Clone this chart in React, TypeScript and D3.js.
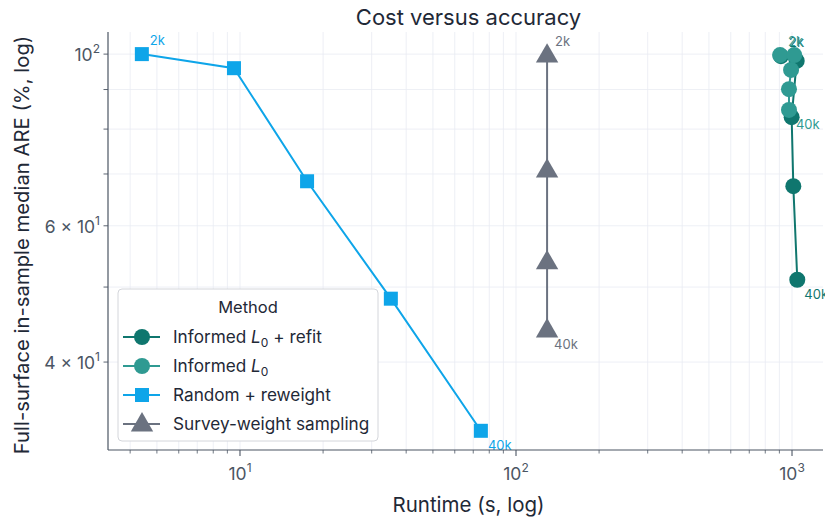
import * as d3 from "d3";

const width = 825;
const height = 517;
const margin = { top: 32, right: 2, bottom: 67, left: 108 };

// Runtime (s) and median ARE (%) per sample size, 2k -> 40k
const refitRuntime = [912, 1040, 997, 1011, 1045];
const refitAre = [99.4, 98.0, 82.9, 67.5, 51.1];
const l0Runtime = [905, 1019, 992, 975, 975];
const l0Are = [99.7, 99.7, 95.4, 90.1, 84.7];
const randomRuntime = [4.41, 9.51, 17.5, 35.2, 74.6];
const randomAre = [100, 95.9, 68.5, 48.3, 32.6];
const surveyRuntime = [129.6, 129.6, 129.6, 129.6];
const surveyAre = [99.7, 70.8, 53.9, 44.0];

const seriesNames = ["Informed L0 + refit", "Informed L0", "Random + reweight", "Survey-weight sampling"];
const seriesColors = ["#0f766e", "#2f9a92", "#0ea5e9", "#6b7280"];
const seriesMarkers = ["circle", "circle", "square", "triangle"];
const firstLabel = "2k";
const lastLabel = "40k";

const xMajorTicks = [10, 100, 1000];
const xMajorExp = ["1", "2", "3"];
const yLabeledTicks = [100, 60, 40];
const yLabelMantissa = ["", "6 × ", "4 × "];
const yLabelExp = ["2", "1", "1"];

const series = [
  { runtime: refitRuntime, are: refitAre },
  { runtime: l0Runtime, are: l0Are },
  { runtime: randomRuntime, are: randomAre },
  { runtime: surveyRuntime, are: surveyAre },
];

const font = "Inter, 'Noto Sans', sans-serif";

const Marker = ({ kind, x, y, color, size }: { kind: string; x: number; y: number; color: string; size: number }) => {
  if (kind === "circle") return <circle cx={x} cy={y} r={size / 2} fill={color} />;
  if (kind === "square")
    return <rect x={x - size / 2} y={y - size / 2} width={size} height={size} fill={color} />;
  const sym = d3.symbol().type(d3.symbolTriangle).size(size * size * 0.75)();
  return <path d={sym || ""} transform={`translate(${x},${y + 1})`} fill={color} />;
};

const LegendName = ({ name }: { name: string }) => {
  if (name.startsWith("Informed L0")) {
    const rest = name.slice("Informed L0".length);
    return (
      <>
        <tspan>Informed </tspan>
        <tspan fontStyle="italic">L</tspan>
        <tspan fontSize={12} dy={4}>0</tspan>
        <tspan dy={-4}>{rest}</tspan>
      </>
    );
  }
  return <tspan>{name}</tspan>;
};

export default function App() {
  const left = margin.left;
  const right = width - margin.right;
  const top = margin.top;
  const bottom = height - margin.bottom;

  const x = d3.scaleLog().domain([3.325, 1295]).range([left, right]);
  const y = d3.scaleLog().domain([30.79, 106.8]).range([bottom, top]);

  const xTicks = x.ticks().filter((t) => t >= x.domain()[0] && t <= x.domain()[1]);
  const yTicks = y.ticks().filter((t) => t >= y.domain()[0] && t <= y.domain()[1]);

  const line = d3
    .line<[number, number]>()
    .x((d) => x(d[0]))
    .y((d) => y(d[1]));

  const markerSize = [16, 16, 14, 17];

  return (
    <svg
      width={width}
      height={height}
      style={{ position: "absolute", left: 0, top: 0, background: "#fff" }}
      fontFamily={font}
    >
      {/* grid */}
      <g stroke="#e8ebf2" strokeWidth={0.8}>
        {xTicks.map((t, i) => (
          <line key={"gx" + i} x1={x(t)} x2={x(t)} y1={top} y2={bottom} />
        ))}
        {yTicks.map((t, i) => (
          <line key={"gy" + i} x1={left} x2={right} y1={y(t)} y2={y(t)} />
        ))}
      </g>

      {/* series */}
      {series.map((s, si) => {
        const pts: [number, number][] = s.runtime.map((r, i) => [r, s.are[i]]);
        return (
          <g key={"s" + si}>
            <path d={line(pts) || ""} fill="none" stroke={seriesColors[si]} strokeWidth={2} />
            {pts.map((p, i) => (
              <Marker
                key={i}
                kind={seriesMarkers[si]}
                x={x(p[0])}
                y={y(p[1])}
                color={seriesColors[si]}
                size={markerSize[si]}
              />
            ))}
          </g>
        );
      })}

      {/* point annotations */}
      {series.map((s, si) => {
        const n = s.runtime.length;
        return (
          <g key={"a" + si} fontSize={13} fill={seriesColors[si]}>
            <text x={x(s.runtime[0]) + 8} y={y(s.are[0]) - 9}>
              {firstLabel}
            </text>
            <text x={x(s.runtime[n - 1]) + 7} y={y(s.are[n - 1]) + 19}>
              {lastLabel}
            </text>
          </g>
        );
      })}

      {/* axes */}
      <g stroke="#4b5563" strokeWidth={1.2}>
        <line x1={left} x2={left} y1={top} y2={bottom} />
        <line x1={left} x2={right} y1={bottom} y2={bottom} />
        {xTicks.map((t, i) => {
          const major = xMajorTicks.includes(t);
          return <line key={"tx" + i} x1={x(t)} x2={x(t)} y1={bottom} y2={bottom + (major ? 6 : 3.5)} strokeWidth={major ? 1.1 : 0.8} />;
        })}
        {yTicks.map((t, i) => (
          <line key={"ty" + i} x1={left - 4.5} x2={left} y1={y(t)} y2={y(t)} strokeWidth={0.9} />
        ))}
      </g>

      <g fill="#4b5563" fontSize={17.5}>
        {xMajorTicks.map((t, i) => (
          <text key={"lx" + i} x={x(t)} y={bottom + 30} textAnchor="middle">
            10<tspan fontSize={12} dy={-8}>{xMajorExp[i]}</tspan>
          </text>
        ))}
        {yLabeledTicks.map((t, i) => (
          <text key={"ly" + i} x={left - 8} y={y(t) + 7} textAnchor="end">
            {yLabelMantissa[i]}10<tspan fontSize={12} dy={-8}>{yLabelExp[i]}</tspan>
          </text>
        ))}
      </g>

      <text x={(left + right) / 2 + 3} y={bottom + 62} textAnchor="middle" fontSize={20.5} fill="#1f2937">
        Runtime (s, log)
      </text>
      <text
        transform={`translate(29,245) rotate(-90)`}
        textAnchor="middle"
        fontSize={20.3}
        fill="#1f2937"
      >
        Full-surface in-sample median ARE (%, log)
      </text>
      <text x={(left + right) / 2 + 3} y={25} textAnchor="middle" fontSize={22} fill="#1f2937">
        Cost versus accuracy
      </text>

      {/* legend */}
      <g>
        <rect x={118} y={289} width={260} height={152} rx={4} fill="#fff" fillOpacity={0.95} stroke="#d4d6db" strokeWidth={1} />
        <text x={248} y={313} textAnchor="middle" fontSize={16.5} fill="#1f2937">
          Method
        </text>
        {seriesNames.map((name, i) => {
          const cy = 337 + i * 29;
          return (
            <g key={"lg" + i}>
              <line x1={123} x2={160} y1={cy} y2={cy} stroke={seriesColors[i]} strokeWidth={2} />
              <Marker kind={seriesMarkers[i]} x={142} y={cy} color={seriesColors[i]} size={markerSize[i]} />
              <text x={173} y={cy + 6} fontSize={17.2} fill="#1f2937">
                <LegendName name={name} />
              </text>
            </g>
          );
        })}
      </g>
    </svg>
  );
}
